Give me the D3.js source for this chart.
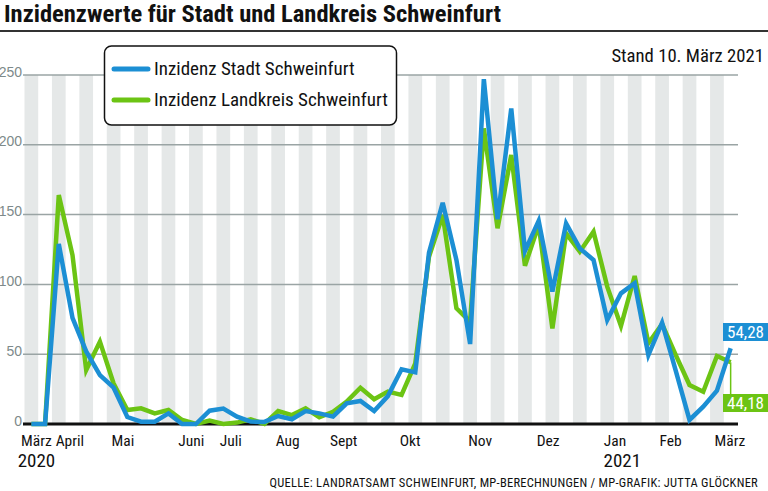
<!DOCTYPE html>
<html><head><meta charset="utf-8">
<script src="https://cdn.jsdelivr.net/npm/d3@7"></script>
<style>
html,body{margin:0;padding:0;background:#fff;}
svg{display:block;font-family:"Liberation Sans Narrow","Roboto Condensed","DejaVu Sans Condensed",sans-serif;}
</style></head>
<body><svg id="c" width="768" height="491"></svg>
<script>
// ---- data ----
const title = "Inzidenzwerte für Stadt und Landkreis Schweinfurt";
const standText = "Stand 10. März 2021";
const sourceText = "QUELLE: LANDRATSAMT SCHWEINFURT, MP-BERECHNUNGEN / MP-GRAFIK: JUTTA GLÖCKNER";
const seriesNames = ["Inzidenz Stadt Schweinfurt", "Inzidenz Landkreis Schweinfurt"];
// weekly values, 52 weeks (March 2020 – 10 March 2021)
const stadt = [0,0,129,76,52,35,26,5,1.7,1.7,7.6,0,0,9.5,11,5.3,1.7,1.5,5.7,3.4,9.3,7.6,5.3,14.8,16.5,9.3,20,39.2,37,122.7,158.5,117.5,57.3,247,146.6,226,124,145.6,94.8,143.7,125.8,117.5,74.5,93.6,100.8,49.4,72.6,38,2.9,12.4,23.9,54.28];
const landkreis = [0,0,164,121,38.7,59,29,10,11.2,7.6,10,2.9,0,2.4,0,1,3.4,0,9.3,6.4,11.2,4.8,8.8,16,26,17.7,23.2,20.8,43.5,119.8,149.7,82.9,73.3,211.8,140.2,192.7,113.4,142.6,68.5,136.6,123.4,137.8,98.4,70.2,106,57.8,71.6,49.4,27.9,23.1,48.7,44.18];
const endLabels = ["54,28", "44,18"];
const yTicks = [0,50,100,150,200,250];
// month labels, position in week index units
const monthLabels = ["März","April","Mai","Juni","Juli","Aug","Sept","Okt","Nov","Dez","Jan","Feb","März"];
const monthPos = [0.37,2.81,6.68,11.67,14.55,18.7,22.78,27.63,32.73,37.69,42.57,46.62,50.95];
const yearLabels = ["2020","2021"];
const yearPos = [0.37,43.1];

// ---- drawing ----
const svg = d3.select("#c");
const W = 768, H = 491;
const BLUE = "#1c8fd4", GREEN = "#6cc414";
const weeks = d3.range(stadt.length);
const xBand = d3.scaleBand().domain(weeks).range([24.5, 737.5]).paddingInner(0).paddingOuter(0);
const xLin = d3.scaleLinear().domain([-0.5, stadt.length - 0.5]).range([24.5, 737.5]);
const y = d3.scaleLinear().domain([0, 250]).range([424, 75]);
const cx = i => xBand(i) + xBand.bandwidth() / 2;

// title
svg.append("text").attr("x", 4).attr("y", 22).attr("font-size", 24.5).attr("font-weight", "bold").attr("fill", "#111").text(title);
svg.append("line").attr("x1", 0).attr("x2", W).attr("y1", 31).attr("y2", 31).attr("stroke", "#333").attr("stroke-width", 2);
svg.append("text").attr("x", 764).attr("y", 62).attr("text-anchor", "end").attr("font-size", 18.7).attr("fill", "#111").text(standText);

// stripes
svg.append("g").selectAll("rect").data(weeks.filter(i => i % 2 === 0)).join("rect")
  .attr("x", d => xBand(d)).attr("width", xBand.bandwidth())
  .attr("y", y(250)).attr("height", y(0) - y(250)).attr("fill", "#e5e8e8");

// gridlines
svg.append("g").selectAll("line").data(yTicks.filter(t => t > 0)).join("line")
  .attr("x1", 23).attr("x2", 738).attr("y1", d => y(d)).attr("y2", d => y(d))
  .attr("stroke", "#9aa4a4").attr("stroke-width", 1.5);

// y axis labels
const yAxis = d3.axisLeft(y).tickValues(yTicks).tickSize(0).tickPadding(0);
const gy = svg.append("g").attr("transform", "translate(22,0)").call(yAxis);
gy.select(".domain").remove();
gy.selectAll("text").attr("font-size", 14).attr("fill", "#7d8a8a").attr("dy", "0").attr("y", 1)
  .attr("font-family", "inherit");

// baseline
svg.append("line").attr("x1", 23).attr("x2", 738).attr("y1", y(0)).attr("y2", y(0)).attr("stroke", "#111").attr("stroke-width", 3);

// lines
const line = d3.line().x((d, i) => cx(i)).y(d => y(d));
svg.append("path").datum(landkreis).attr("d", line).attr("fill", "none").attr("stroke", GREEN)
  .attr("stroke-width", 4.5).attr("stroke-linejoin", "miter").attr("stroke-miterlimit", 4);
svg.append("path").datum(stadt).attr("d", line).attr("fill", "none").attr("stroke", BLUE)
  .attr("stroke-width", 4.5).attr("stroke-linejoin", "miter").attr("stroke-miterlimit", 4);

// end labels
const last = stadt.length - 1;
svg.append("line").attr("x1", cx(last)).attr("x2", cx(last)).attr("y1", y(landkreis[last])).attr("y2", 394)
  .attr("stroke", GREEN).attr("stroke-width", 1.5);
svg.append("rect").attr("x", 723).attr("y", 323).attr("width", 46).attr("height", 18).attr("fill", BLUE);
svg.append("text").attr("x", 745.5).attr("y", 338).attr("text-anchor", "middle").attr("font-size", 17).attr("fill", "#fff").text(endLabels[0]);
svg.append("rect").attr("x", 723).attr("y", 394).attr("width", 46).attr("height", 18).attr("fill", GREEN);
svg.append("text").attr("x", 745.5).attr("y", 409).attr("text-anchor", "middle").attr("font-size", 17).attr("fill", "#fff").text(endLabels[1]);

// month labels
svg.append("g").selectAll("text").data(monthLabels).join("text")
  .attr("x", (d, i) => xLin(monthPos[i])).attr("y", 446).attr("text-anchor", "middle")
  .attr("font-size", 15.5).attr("fill", "#111").text(d => d);
svg.append("g").selectAll("text").data(yearLabels).join("text")
  .attr("x", (d, i) => xLin(yearPos[i])).attr("y", 467).attr("text-anchor", "middle")
  .attr("font-size", 19).attr("fill", "#111").text(d => d);

// source
svg.append("text").attr("x", 758).attr("y", 487).attr("text-anchor", "end").attr("font-size", 12.5)
  .attr("letter-spacing", 0.25).attr("fill", "#111").text(sourceText);

// legend
const lg = svg.append("g");
lg.append("rect").attr("x", 104.5).attr("y", 46).attr("width", 292).attr("height", 79).attr("rx", 7)
  .attr("fill", "#fff").attr("stroke", "#111").attr("stroke-width", 1.5);
[[BLUE, 69, 75], [GREEN, 100, 106]].forEach((s, k) => {
  lg.append("line").attr("x1", 114).attr("x2", 148).attr("y1", s[1]).attr("y2", s[1]).attr("stroke", s[0]).attr("stroke-width", 5).attr("stroke-linecap", "round");
  lg.append("text").attr("x", 154).attr("y", s[2]).attr("font-size", 19).attr("fill", "#111").text(seriesNames[k]);
});
</script></body></html>
